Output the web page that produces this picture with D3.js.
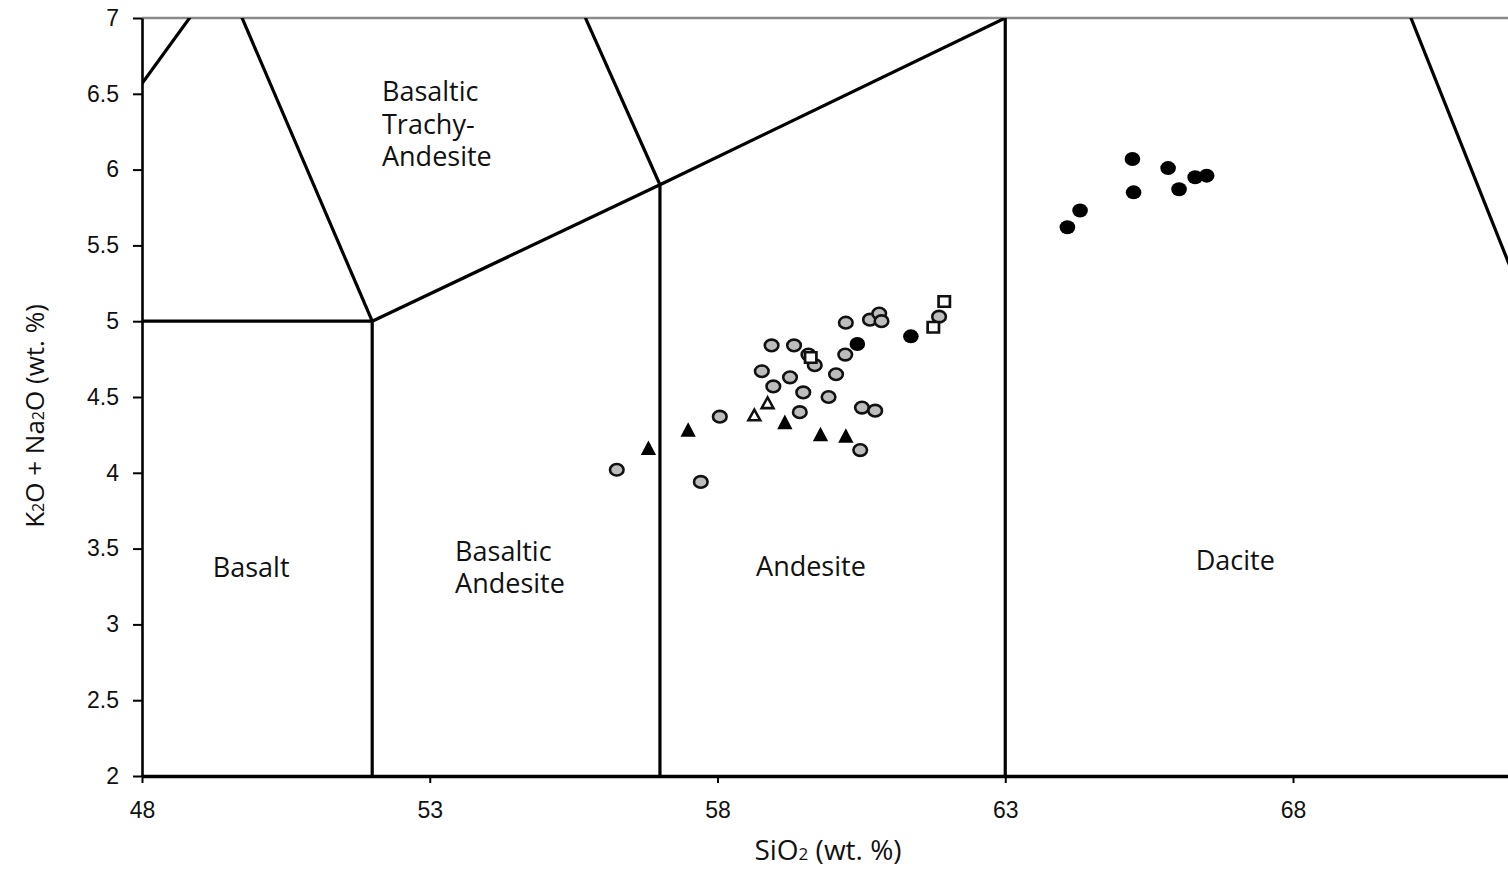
<!DOCTYPE html>
<html>
<head>
<meta charset="utf-8">
<script src="https://cdn.jsdelivr.net/npm/d3@7"></script>
<style>
  body { margin: 0; background: #fff; }
  svg { display: block; }
</style>
</head>
<body>
<div id="vis-container"></div>
<script>
// axis ticks
var xTicks = [48, 53, 58, 63, 68];
var yTicks = [2, 2.5, 3, 3.5, 4, 4.5, 5, 5.5, 6, 6.5, 7];

// TAS field boundaries (SiO2, Na2O+K2O)
var boundaries = [
  [[52, 0], [52, 5]],
  [[45, 5], [52, 5]],
  [[45, 5], [49.4, 7.3]],
  [[52, 5], [49.4, 7.3]],
  [[52, 5], [57, 5.9]],
  [[57, 0], [57, 5.9]],
  [[57, 5.9], [53, 9.3]],
  [[57, 5.9], [63, 7]],
  [[63, 0], [63, 7]],
  [[69, 8], [77.4, 0]]
];

// field names (anchor = left end of first baseline)
var fieldNames = [
  { x: 49.23, y: 3.31, lines: ["Basalt"] },
  { x: 53.44, y: 3.42, lines: ["Basaltic", "Andesite"] },
  { x: 58.67, y: 3.32, lines: ["Andesite"] },
  { x: 66.31, y: 3.36, lines: ["Dacite"] },
  { x: 52.17, y: 6.45, lines: ["Basaltic", "Trachy-", "Andesite"] }
];

// samples
var grayCircleSiO2 = [56.25, 57.71, 58.04, 58.94, 59.33, 59.58, 59.69, 58.77, 59.26, 58.97, 59.49, 59.93,
                      60.06, 60.22, 60.23, 60.65, 60.81, 60.85, 59.43, 60.51, 60.74, 60.48, 61.85];
var grayCircleAlk  = [4.02, 3.94, 4.37, 4.84, 4.84, 4.78, 4.71, 4.67, 4.63, 4.57, 4.53, 4.50,
                      4.65, 4.78, 4.99, 5.01, 5.05, 5.00, 4.40, 4.43, 4.41, 4.15, 5.03];
var blackCircleSiO2 = [60.43, 61.36, 64.08, 64.30, 65.21, 65.23, 65.83, 66.02, 66.30, 66.50];
var blackCircleAlk  = [4.85, 4.90, 5.62, 5.73, 6.07, 5.85, 6.01, 5.87, 5.95, 5.96];
var blackTriSiO2 = [56.80, 57.49, 59.17, 59.79, 60.23];
var blackTriAlk  = [4.15, 4.27, 4.32, 4.24, 4.23];
var openTriSiO2 = [58.64, 58.87];
var openTriAlk  = [4.37, 4.45];
var openSqSiO2 = [59.62, 61.75, 61.94];
var openSqAlk  = [4.76, 4.96, 5.13];

var W = 1508, H = 869;
var margin = { top: 18, left: 142, bottom: 93 };

var x = d3.scaleLinear().domain([48, 48 + (W - margin.left) / 57.55]).range([margin.left, W]);
var y = d3.scaleLinear().domain([2, 7]).range([H - margin.bottom, margin.top]);

var svg = d3.select("#vis-container").append("svg")
  .attr("width", W).attr("height", H);

svg.append("defs").append("clipPath").attr("id", "plot")
  .append("rect")
  .attr("x", x(48)).attr("y", y(7))
  .attr("width", W - x(48)).attr("height", y(2) - y(7));

// top frame line
svg.append("line")
  .attr("x1", x(48)).attr("x2", W)
  .attr("y1", y(7)).attr("y2", y(7))
  .attr("stroke", "#8a8a8a").attr("stroke-width", 2.5);

var line = d3.line().x(function(d) { return x(d[0]); }).y(function(d) { return y(d[1]); });

svg.append("g").attr("clip-path", "url(#plot)")
  .selectAll("path").data(boundaries).enter().append("path")
  .attr("d", line)
  .attr("fill", "none")
  .attr("stroke", "#000")
  .attr("stroke-width", 3.2);

// axes
var tickFont = "'Liberation Sans', Arial, sans-serif";
var yAxis = svg.append("g")
  .attr("transform", "translate(" + x(48) + ",0)")
  .call(d3.axisLeft(y).tickValues(yTicks).tickSize(9).tickSizeOuter(0).tickPadding(14).tickFormat(function(d) { return String(d); }));
yAxis.select(".domain").attr("stroke-width", 2.6);
yAxis.selectAll(".tick line").attr("stroke-width", 2);
yAxis.selectAll(".tick text").style("font-family", tickFont).style("font-size", "23px").attr("fill", "#111");

var xAxis = svg.append("g")
  .attr("transform", "translate(0," + y(2) + ")")
  .call(d3.axisBottom(x).tickValues(xTicks).tickSize(7).tickSizeOuter(0).tickPadding(19));
xAxis.select(".domain").attr("stroke-width", 3.6);
xAxis.selectAll(".tick line").attr("stroke-width", 2);
xAxis.selectAll(".tick text").style("font-family", tickFont).style("font-size", "23px").attr("fill", "#111");

// field labels
var labelFont = "'Open Sans', 'Noto Sans', sans-serif";
fieldNames.forEach(function(f) {
  var t = svg.append("text")
    .attr("transform", "translate(" + x(f.x) + "," + y(f.y) + ")")
    .style("font-family", labelFont)
    .style("font-size", "27px")
    .attr("fill", "#111");
  f.lines.forEach(function(s, i) {
    t.append("tspan").attr("x", 0).attr("dy", i === 0 ? 0 : 32.5).text(s);
  });
});

// axis titles
var xt = svg.append("text")
  .attr("x", 828).attr("y", 860)
  .attr("text-anchor", "middle")
  .style("font-family", labelFont).style("font-size", "28px").attr("fill", "#111");
xt.append("tspan").text("SiO");
xt.append("tspan").style("font-size", "17px").text("2");
xt.append("tspan").text(" (wt. %)");

var yt = svg.append("text")
  .attr("transform", "translate(44,416) rotate(-90)")
  .attr("text-anchor", "middle")
  .style("font-family", labelFont).style("font-size", "26px").attr("fill", "#111");
yt.append("tspan").text("K");
yt.append("tspan").style("font-size", "16px").text("2");
yt.append("tspan").text("O + Na");
yt.append("tspan").style("font-size", "16px").text("2");
yt.append("tspan").text("O (wt. %)");

// markers
var marks = svg.append("g");

marks.selectAll(".gray").data(d3.range(grayCircleSiO2.length)).enter().append("ellipse")
  .attr("class", "gray")
  .attr("cx", function(i) { return x(grayCircleSiO2[i]); })
  .attr("cy", function(i) { return y(grayCircleAlk[i]); })
  .attr("rx", 6.8).attr("ry", 5.8)
  .attr("fill", "#bdbdbd").attr("stroke", "#111").attr("stroke-width", 2.6);

marks.selectAll(".blk").data(d3.range(blackCircleSiO2.length)).enter().append("ellipse")
  .attr("class", "blk")
  .attr("cx", function(i) { return x(blackCircleSiO2[i]); })
  .attr("cy", function(i) { return y(blackCircleAlk[i]); })
  .attr("rx", 7.8).attr("ry", 7)
  .attr("fill", "#000");

var tri = d3.symbol().type(d3.symbolTriangle);
var sq = d3.symbol().type(d3.symbolSquare);

marks.selectAll(".btri").data(d3.range(blackTriSiO2.length)).enter().append("path")
  .attr("class", "btri")
  .attr("transform", function(i) { return "translate(" + x(blackTriSiO2[i]) + "," + y(blackTriAlk[i]) + ") scale(1.05,1.15)"; })
  .attr("d", tri.size(92)())
  .attr("fill", "#000");

marks.selectAll(".otri").data(d3.range(openTriSiO2.length)).enter().append("path")
  .attr("class", "otri")
  .attr("transform", function(i) { return "translate(" + x(openTriSiO2[i]) + "," + y(openTriAlk[i]) + ") scale(1.05,1.1)"; })
  .attr("d", tri.size(55)())
  .attr("fill", "#fff").attr("stroke", "#111").attr("stroke-width", 2.4);

marks.selectAll(".osq").data(d3.range(openSqSiO2.length)).enter().append("path")
  .attr("class", "osq")
  .attr("transform", function(i) { return "translate(" + x(openSqSiO2[i]) + "," + y(openSqAlk[i]) + ") scale(1.08,1)"; })
  .attr("d", sq.size(110)())
  .attr("fill", "#fff").attr("stroke", "#111").attr("stroke-width", 2.5);
</script>
</body>
</html>
